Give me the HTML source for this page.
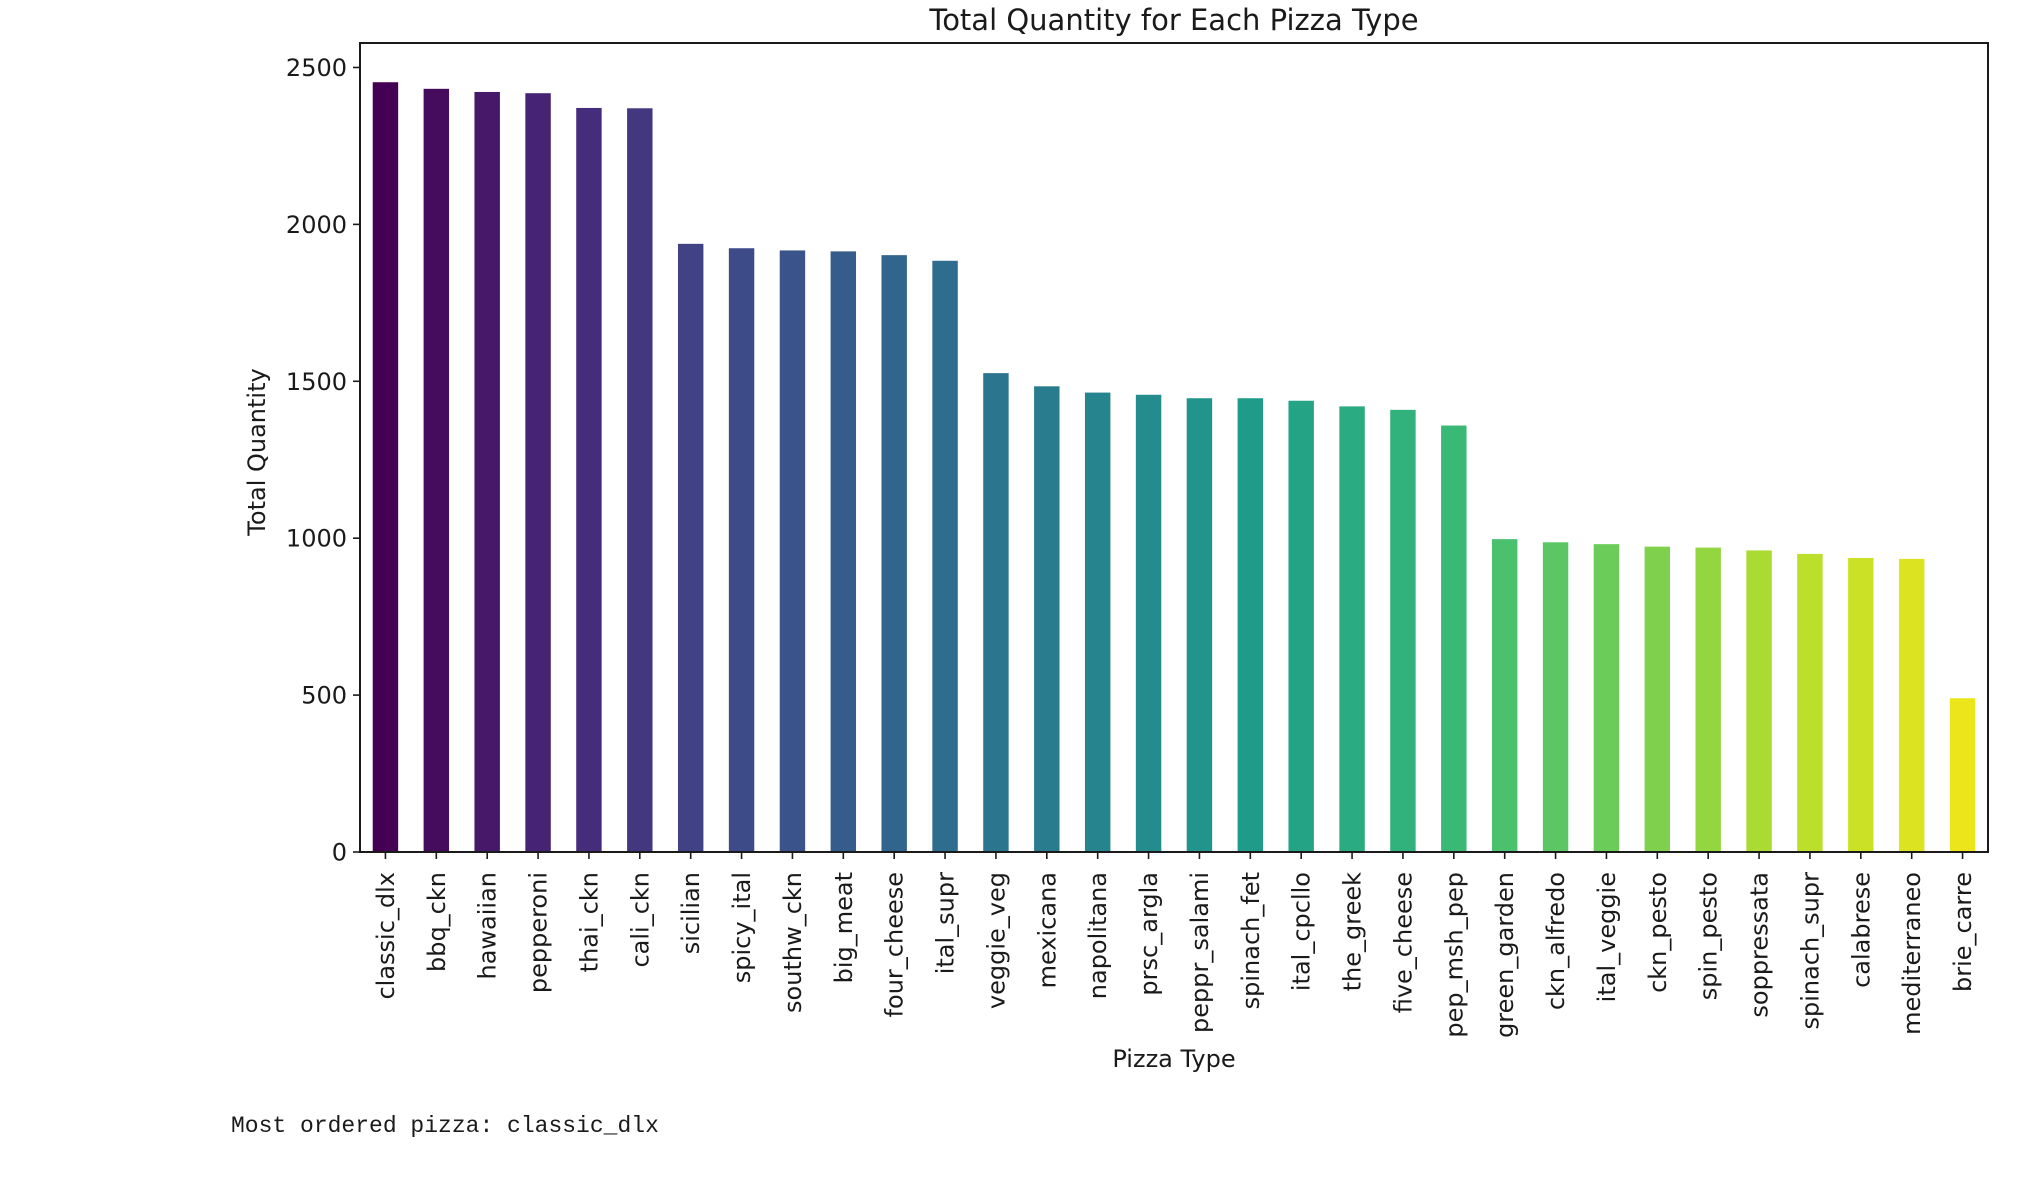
<!DOCTYPE html>
<html><head><meta charset="utf-8"><style>
html,body{margin:0;padding:0;background:#fff;width:2040px;height:1178px;overflow:hidden}
svg text{font-family:"DejaVu Sans","Liberation Sans",sans-serif;fill:#1a1a1a}
</style></head><body>
<svg id="chart" width="2040" height="1178" xmlns="http://www.w3.org/2000/svg">
<g id="bars"></g>
<g id="axes"></g>
<text x="1174" y="30" font-size="29" text-anchor="middle">Total Quantity for Each Pizza Type</text>
<text transform="translate(265,452) rotate(-90)" font-size="24" text-anchor="middle">Total Quantity</text>
<text x="1174" y="1067" font-size="24" text-anchor="middle">Pizza Type</text>
<text x="231" y="1132" font-size="23" style="font-family:'Liberation Mono',monospace">Most ordered pizza: classic_dlx</text>
</svg>
<script>
const categories = ["classic_dlx","bbq_ckn","hawaiian","pepperoni","thai_ckn","cali_ckn","sicilian","spicy_ital","southw_ckn","big_meat","four_cheese","ital_supr","veggie_veg","mexicana","napolitana","prsc_argla","peppr_salami","spinach_fet","ital_cpcllo","the_greek","five_cheese","pep_msh_pep","green_garden","ckn_alfredo","ital_veggie","ckn_pesto","spin_pesto","soppressata","spinach_supr","calabrese","mediterraneo","brie_carre"];
const quantities = [2453,2432,2422,2418,2371,2370,1938,1924,1917,1914,1902,1884,1526,1484,1464,1457,1446,1446,1438,1420,1409,1359,997,987,981,973,970,961,950,937,934,490];
const yTicks = [0,500,1000,1500,2000,2500];

const NS = "http://www.w3.org/2000/svg";
const L = 360, R = 1988, T = 43, B = 852;
const yMax = 2578;
const n = categories.length;
const step = (R - L) / n;
function xPos(i){ return L + step * (i + 0.5); }
function yPos(v){ return B - (v / yMax) * (B - T); }
const vir = [[68,1,84],[72,40,120],[62,74,137],[49,104,142],[38,130,142],[31,158,137],[53,183,121],[109,205,89],[180,222,44],[236,229,27]];
function viridis(t){
  const p = t * (vir.length - 1), k = Math.min(Math.floor(p), vir.length - 2), f = p - k;
  const c = vir[k].map((a, j) => Math.round(a + (vir[k+1][j] - a) * f));
  return `rgb(${c[0]},${c[1]},${c[2]})`;
}
function mk(tag, attrs, parent){
  const e = document.createElementNS(NS, tag);
  for (const k in attrs) e.setAttribute(k, attrs[k]);
  parent.appendChild(e); return e;
}
const bars = document.getElementById('bars');
const axes = document.getElementById('axes');
const bw = step * 0.5;
quantities.forEach((v, i) => {
  const r = mk('rect', {x: xPos(i) - bw/2, y: yPos(v), width: bw, height: B - yPos(v), fill: viridis(i/(n-1))}, bars);
  
  
});
const frame = mk('rect', {x: L, y: T, width: R - L, height: B - T, fill: 'none', stroke: '#1a1a1a', 'stroke-width': 2}, axes);


yTicks.forEach(v => {
  const y = yPos(v);
  mk('line', {x1: L - 7, x2: L, y1: y, y2: y, stroke: '#1a1a1a', 'stroke-width': 1.6}, axes);
  const t = mk('text', {x: L - 13, y: y + 8.5, 'font-size': 24, 'text-anchor': 'end'}, axes);
  t.textContent = v;
  
  
});
categories.forEach((c, i) => {
  const x = xPos(i);
  mk('line', {x1: x, x2: x, y1: B, y2: B + 7, stroke: '#1a1a1a', 'stroke-width': 1.6}, axes);
  const t = mk('text', {transform: `translate(${x + 8.5},${B + 20}) rotate(-90)`, 'font-size': 24, 'text-anchor': 'end'}, axes);
  t.textContent = c;
  
  
});
</script>
</body></html>
